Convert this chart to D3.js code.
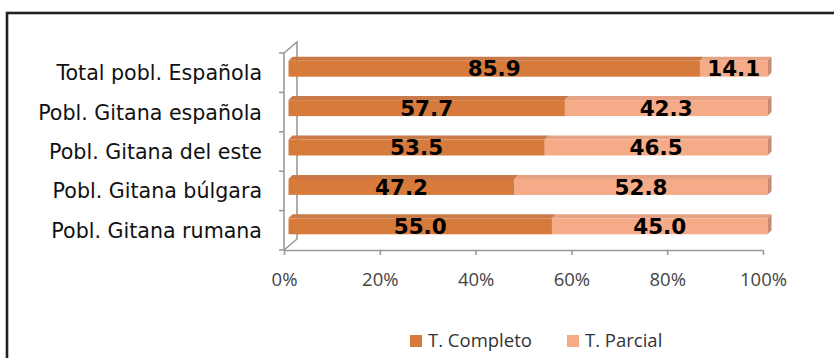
<!DOCTYPE html>
<html><head><meta charset="utf-8">
<script src="https://cdn.jsdelivr.net/npm/d3@7"></script>
<style>html,body{margin:0;padding:0;background:#fff;overflow:hidden}</style>
</head><body>
<svg id="c" width="834" height="358"></svg>
<script>
const categories = ["Total pobl. Española","Pobl. Gitana española","Pobl. Gitana del este","Pobl. Gitana búlgara","Pobl. Gitana rumana"];
const completo = [85.9, 57.7, 53.5, 47.2, 55.0];
const parcial  = [14.1, 42.3, 46.5, 52.8, 45.0];
const seriesNames = ["T. Completo","T. Parcial"];
const tickValues = [0,20,40,60,80,100];

const svg = d3.select("#c");
// frame
svg.append("rect").attr("x",7).attr("y",13).attr("width",900).attr("height",400)
  .attr("fill","#fff").attr("stroke","#222").attr("stroke-width",2.6);

const x = d3.scaleLinear().domain([0,100]).range([284,763]);
const y = d3.scaleBand().domain(categories).range([53,250]).padding(0);
const dx = 13, dy = -11; // wall depth
const off = 4.5, depth = 4, barH = 16;

const g = svg.append("g");
const wallCol = "#9a9a9a";
// wall outline
g.append("path").attr("fill","none").attr("stroke",wallCol).attr("stroke-width",1.6)
  .attr("d",`M${x(0)},${y.range()[1]}L${x(0)},${y.range()[0]}L${x(0)+dx},${y.range()[0]+dy}L${x(0)+dx},${y.range()[1]+dy}L${x(0)},${y.range()[1]}`);

// x axis
const xAxis = d3.axisBottom(x).tickValues(tickValues).tickFormat(d=>d+"%").tickSize(5).tickSizeOuter(0).tickPadding(18);
const xa = svg.append("g").attr("transform",`translate(0,${y.range()[1]})`).call(xAxis);
xa.select(".domain").attr("stroke",wallCol).attr("stroke-width",1.6);
xa.selectAll(".tick line").attr("stroke",wallCol).attr("stroke-width",1.6);
xa.selectAll("text").attr("font-family","'Open Sans',sans-serif").attr("font-size",18.5).attr("fill","#444");

// y axis
const yAxis = d3.axisLeft(y).tickSize(0).tickPadding(22);
const ya = svg.append("g").attr("transform",`translate(${x(0)},0)`).call(yAxis);
ya.select(".domain").remove();
ya.selectAll("text").attr("font-family","'DejaVu Sans',Verdana,sans-serif").attr("font-size",20.6).attr("fill","#111").attr("dy","0.36em");
// boundary ticks
const bounds = categories.map(c=>y(c)).concat([y.range()[1]]);
g.selectAll("line.bt").data(bounds).join("line").attr("class","bt")
  .attr("x1",x(0)-5).attr("x2",x(0)).attr("y1",d=>d).attr("y2",d=>d)
  .attr("stroke",wallCol).attr("stroke-width",1.6);

const colors = {
  front:["#D77B3D","#F5AB88"],
  top:["#C97A48","#E6A285"],
  side:["#B46A3A","#C88A72"]
};
const rows = categories.map((c,i)=>({c, segs:[{s:0,a:0,b:completo[i],v:completo[i]},{s:1,a:completo[i],b:completo[i]+parcial[i],v:parcial[i]}]}));
const bars = svg.append("g");
rows.forEach(r=>{
  const yt = y(r.c) + (y.bandwidth()-barH)/2 - 4;
  r.segs.forEach(sg=>{
    const x0 = x(sg.a)+off, x1 = x(sg.b)+off;
    bars.append("path").attr("fill",colors.top[sg.s])
      .attr("d",`M${x0},${yt}L${x1},${yt}L${x1+depth},${yt-depth}L${x0+depth},${yt-depth}Z`);
    bars.append("rect").attr("x",x0).attr("y",yt).attr("width",x1-x0).attr("height",barH).attr("fill",colors.front[sg.s]);
    if(sg.s===1){
      bars.append("path").attr("fill",colors.side[sg.s])
        .attr("d",`M${x1},${yt}L${x1+depth},${yt-depth}L${x1+depth},${yt-depth+barH}L${x1},${yt+barH}Z`);
    }
    bars.append("text").attr("x",(x0+x1)/2).attr("y",yt+barH/2).attr("dy","0.36em")
      .attr("text-anchor","middle").attr("font-family","'DejaVu Sans',Verdana,sans-serif")
      .attr("font-weight","bold").attr("font-size",21.5).attr("fill","#000").text(sg.v.toFixed(1));
  });
});

// legend
const leg = svg.append("g").attr("font-family","'Open Sans',sans-serif").attr("font-size",18.5).attr("fill","#333");
const legX = [410, 567];
seriesNames.forEach((n,i)=>{
  leg.append("rect").attr("x",legX[i]).attr("y",335).attr("width",12).attr("height",12).attr("fill",colors.front[i]);
  leg.append("text").attr("x",legX[i]+18).attr("y",347).attr("fill","#333").text(n);
});
</script>
</body></html>
